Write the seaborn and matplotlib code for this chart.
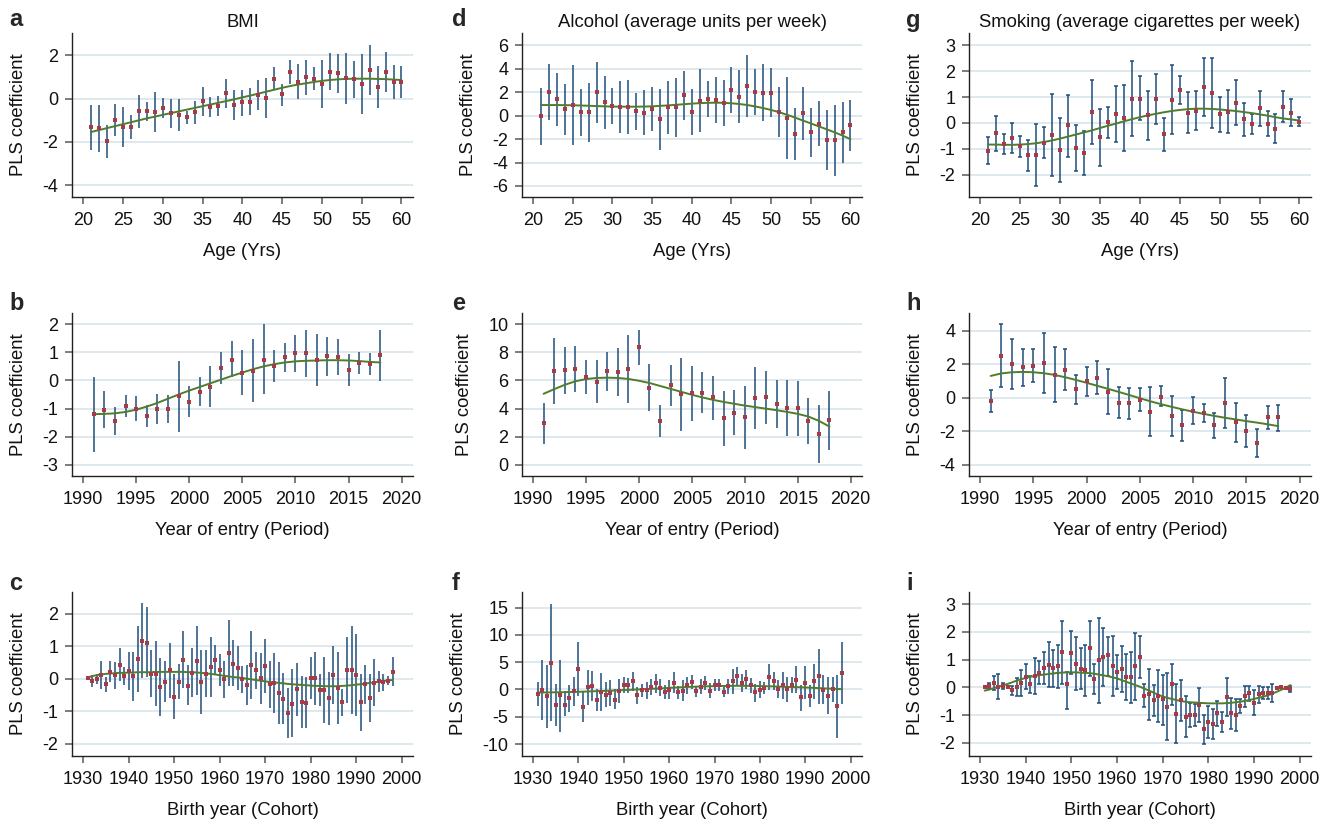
import numpy as np
import matplotlib
matplotlib.use("Agg")
import matplotlib.pyplot as plt
import seaborn as sns

sns.set_theme(style="white")
plt.rcParams['font.family'] = ['Liberation Sans', 'DejaVu Sans']

# ---------------- x categories ----------------
ages = list(range(21, 61))
periods = list(range(1991, 2019))
cohorts = list(range(1931, 1999))

# ---------------- a: BMI by age ----------------
bmi_age_est = [-1.31, -1.37, -1.97, -0.97, -1.31, -1.31, -0.57, -0.57, -0.63, -0.45,
               -0.68, -0.75, -0.83, -0.63, -0.11, -0.37, -0.32, 0.25, -0.29, -0.17,
               -0.15, 0.17, 0.05, 0.91, 0.20, 1.23, 0.77, 1.00, 0.92, 0.68,
               1.25, 1.17, 0.94, 0.91, 0.68, 1.32, 0.54, 1.22, 0.77, 0.77]
bmi_age_hi = [-0.29, -0.29, -1.22, -0.25, -0.40, -0.75, 0.18, -0.14, 0.31, 0.02,
              0.00, 0.00, -0.57, -0.11, 0.55, 0.06, 0.11, 0.92, 0.38, 0.42,
              0.49, 0.86, 0.95, 1.48, 0.69, 1.78, 1.60, 1.80, 1.45, 1.78,
              2.12, 2.06, 2.12, 1.75, 2.08, 2.49, 1.51, 2.15, 1.55, 1.51]
bmi_age_lo = [-2.38, -2.48, -2.74, -1.71, -2.22, -1.86, -1.37, -1.02, -1.55, -0.91,
              -1.37, -1.48, -1.17, -1.17, -0.78, -0.85, -0.78, -0.43, -0.98, -0.78,
              -0.74, -0.52, -0.88, 0.42, -0.32, 0.66, -0.03, 0.18, 0.42, -0.43,
              0.40, 0.28, -0.25, 0.05, -0.72, 0.15, -0.45, 0.29, -0.03, 0.03]
bmi_age_fit = [-1.54, -1.45, -1.36, -1.27, -1.18, -1.09, -1.00, -0.91, -0.83, -0.75,
               -0.67, -0.59, -0.51, -0.43, -0.35, -0.27, -0.19, -0.11, -0.03, 0.06,
               0.14, 0.23, 0.32, 0.41, 0.50, 0.58, 0.65, 0.71, 0.77, 0.82,
               0.86, 0.89, 0.91, 0.92, 0.92, 0.92, 0.91, 0.90, 0.88, 0.86]

# ---------------- d: Alcohol by age ----------------
alc_age_est = [-0.06, 2.03, 1.43, 0.54, 0.94, 0.29, 0.29, 2.00, 1.14, 0.83,
               0.71, 0.74, 0.37, 0.26, 0.54, -0.31, 0.71, 0.71, 1.74, 0.31,
               1.29, 1.40, 1.37, 1.06, 2.23, 1.63, 2.54, 2.00, 1.97, 1.97,
               0.29, -0.17, -1.60, 0.20, -1.43, -0.69, -2.06, -2.11, -1.43, -0.83]
alc_age_hi = [2.37, 4.43, 3.66, 2.71, 4.31, 2.29, 2.83, 4.57, 3.37, 2.34,
              2.94, 3.06, 1.91, 2.17, 2.43, 2.26, 3.00, 3.23, 3.83, 2.26,
              3.97, 2.94, 3.29, 3.03, 4.17, 3.89, 5.17, 3.97, 4.40, 4.09,
              2.43, 3.31, 0.63, 2.49, 0.69, 1.23, 0.49, 0.89, 1.14, 1.34]
alc_age_lo = [-2.49, -0.34, -0.86, -1.66, -2.46, -1.74, -2.23, -0.63, -1.11, -0.69,
              -1.51, -1.57, -1.23, -1.63, -1.34, -2.89, -1.57, -1.83, -0.34, -1.63,
              -1.40, -0.11, -0.60, -0.89, 0.26, -0.60, -0.11, 0.06, -0.43, -0.11,
              -1.86, -3.69, -3.77, -2.11, -3.51, -2.57, -4.63, -5.14, -4.06, -3.03]
alc_age_fit = [0.91, 0.91, 0.91, 0.90, 0.89, 0.87, 0.85, 0.82, 0.80, 0.78,
               0.77, 0.77, 0.77, 0.78, 0.80, 0.84, 0.88, 0.93, 0.98, 1.03,
               1.07, 1.10, 1.11, 1.10, 1.06, 1.00, 0.91, 0.79, 0.65, 0.49,
               0.30, 0.08, -0.16, -0.41, -0.66, -0.91, -1.16, -1.42, -1.70, -2.00]

# ---------------- g: Smoking by age ----------------
smk_age_est = [-1.07, -0.39, -0.83, -0.58, -0.91, -1.25, -1.25, -0.79, -0.48, -1.06,
               -0.10, -0.96, -1.15, 0.44, -0.56, 0.04, 0.35, 0.18, 0.93, 0.94,
               0.30, 0.92, -0.44, 0.89, 1.28, 0.38, 0.47, 1.38, 1.15, 0.34,
               0.41, 0.76, 0.14, -0.05, 0.56, -0.03, -0.22, 0.61, 0.40, 0.04]
smk_age_hi = [-0.56, 0.28, -0.45, -0.01, -0.52, -0.65, -0.06, -0.17, 1.10, 0.18,
              1.09, -0.08, -0.31, 1.67, 0.52, 0.61, 1.44, 1.45, 2.38, 1.80,
              1.25, 1.88, 0.19, 2.23, 1.82, 1.19, 1.23, 2.50, 2.50, 1.02,
              1.28, 1.66, 0.76, 0.35, 1.24, 0.47, 0.34, 1.22, 0.91, 0.21]
smk_age_lo = [-1.59, -1.07, -1.19, -1.16, -1.31, -1.85, -2.43, -1.37, -2.06, -2.28,
              -1.31, -1.86, -2.02, -0.80, -1.66, -0.57, -0.74, -1.10, -0.52, 0.10,
              -0.65, -0.05, -1.07, -0.45, 0.75, -0.41, -0.28, 0.28, -0.18, -0.36,
              -0.41, -0.10, -0.49, -0.43, -0.12, -0.52, -0.78, 0.04, -0.12, -0.14]
smk_age_fit = [-0.84, -0.84, -0.85, -0.85, -0.84, -0.82, -0.79, -0.74, -0.68, -0.61,
               -0.53, -0.45, -0.37, -0.29, -0.20, -0.11, -0.03, 0.06, 0.14, 0.22,
               0.29, 0.35, 0.41, 0.46, 0.50, 0.53, 0.55, 0.55, 0.54, 0.52,
               0.49, 0.46, 0.42, 0.38, 0.33, 0.28, 0.22, 0.17, 0.13, 0.09]

# ---------------- b: BMI by period ----------------
bmi_per_est = [-1.20, -1.04, -1.44, -0.90, -1.00, -1.25, -1.01, -1.01, -0.57, -0.75,
               -0.40, -0.23, 0.45, 0.74, 0.27, 0.35, 0.74, 0.50, 0.82, 0.98,
               0.96, 0.74, 0.86, 0.83, 0.38, 0.62, 0.60, 0.89]
bmi_per_hi = [0.14, -0.36, -0.95, -0.51, -0.55, -0.86, -0.48, -0.51, 0.70, -0.19,
              0.11, 0.52, 1.00, 1.39, 1.10, 1.48, 2.00, 1.07, 1.35, 1.63,
              1.81, 1.67, 1.56, 1.49, 0.95, 1.00, 0.99, 1.81]
bmi_per_lo = [-2.54, -1.70, -1.94, -1.29, -1.46, -1.67, -1.56, -1.50, -1.82, -1.29,
              -0.90, -0.95, -0.11, 0.12, -0.51, -0.75, -0.50, -0.07, 0.31, 0.30,
              0.11, -0.19, 0.17, 0.19, -0.19, 0.24, 0.19, -0.02]
bmi_per_fit = [-1.20, -1.19, -1.17, -1.12, -1.04, -0.93, -0.80, -0.65, -0.50, -0.36,
               -0.23, -0.10, 0.03, 0.16, 0.28, 0.40, 0.50, 0.58, 0.64, 0.68,
               0.70, 0.71, 0.72, 0.72, 0.71, 0.69, 0.66, 0.64]

# ---------------- e: Alcohol by period ----------------
alc_per_est = [2.95, 6.67, 6.74, 6.83, 6.24, 5.90, 6.64, 6.62, 6.83, 8.38,
               5.48, 3.14, 5.69, 5.00, 5.10, 5.14, 4.79, 3.31, 3.71, 3.40,
               4.76, 4.81, 4.33, 4.02, 4.02, 3.12, 2.19, 3.17]
alc_per_hi = [4.40, 9.00, 8.40, 8.45, 7.43, 7.45, 8.02, 8.33, 9.24, 9.62,
              7.14, 4.24, 7.12, 7.57, 7.02, 6.57, 6.31, 5.24, 5.31, 5.62,
              6.93, 6.71, 6.05, 6.00, 5.93, 4.76, 4.24, 5.24]
alc_per_lo = [1.50, 4.33, 5.07, 5.19, 5.02, 4.38, 5.24, 4.90, 4.38, 7.07,
              3.81, 2.00, 4.21, 2.40, 3.12, 3.67, 3.21, 1.36, 2.14, 1.14,
              2.52, 2.90, 2.64, 2.05, 2.05, 1.45, 0.10, 1.02]
alc_per_fit = [5.05, 5.38, 5.69, 5.94, 6.10, 6.18, 6.20, 6.18, 6.11, 5.98,
               5.82, 5.61, 5.40, 5.19, 4.98, 4.79, 4.62, 4.47, 4.34, 4.21,
               4.10, 3.99, 3.88, 3.76, 3.62, 3.43, 3.12, 2.71]

# ---------------- h: Smoking by period ----------------
smk_per_est = [-0.20, 2.50, 2.00, 1.82, 1.92, 2.08, 1.38, 1.68, 0.50, 0.98,
               1.20, 0.36, -0.30, -0.34, -0.12, -0.84, 0.06, -1.10, -1.62, -0.78,
               -0.90, -1.66, -0.30, -1.48, -2.00, -2.69, -1.18, -1.18]
smk_per_hi = [0.46, 4.39, 3.51, 2.91, 2.89, 3.87, 3.03, 2.89, 1.38, 1.86,
              2.22, 1.72, 0.62, 0.60, 0.60, 0.62, 0.70, 0.08, -0.72, 0.04,
              -0.36, -0.94, 1.18, -0.32, -1.04, -1.86, -0.52, -0.44]
smk_per_lo = [-0.88, 0.62, 0.50, 0.72, 0.94, 0.28, -0.26, 0.44, -0.38, 0.10,
              0.20, -0.98, -1.20, -1.28, -0.80, -2.28, -0.50, -2.30, -2.56, -1.58,
              -1.46, -2.42, -1.80, -2.62, -2.95, -3.55, -1.86, -1.98]
smk_per_fit = [1.30, 1.45, 1.52, 1.54, 1.52, 1.46, 1.36, 1.22, 1.06, 0.89,
               0.71, 0.53, 0.35, 0.16, -0.03, -0.22, -0.39, -0.55, -0.70, -0.84,
               -0.97, -1.09, -1.20, -1.30, -1.40, -1.49, -1.59, -1.70]

# ---------------- c: BMI by cohort ----------------
bmi_coh_est = [0.01, -0.06, -0.02, 0.11, -0.16, 0.21, 0.10, 0.43, 0.08, 0.24,
               0.07, 0.60, 1.16, 1.11, 0.15, 0.16, -0.26, -0.09, 0.26, -0.56,
               -0.09, 0.58, -0.21, 0.18, 0.55, -0.11, 0.16, 0.36, 0.56, 0.27,
               -0.02, 0.79, 0.46, 0.33, -0.02, -0.19, 0.42, 0.26, 0.02, 0.40,
               -0.17, -0.14, -0.44, -0.61, -1.05, -0.76, -0.33, -0.70, -0.74, 0.03,
               0.02, -0.36, -0.35, -0.59, 0.11, -0.28, -0.72, 0.26, 0.27, 0.11,
               -0.72, -0.17, -0.60, -0.12, -0.08, -0.10, -0.06, 0.22]
bmi_coh_hi = [0.07, 0.11, 0.16, 0.55, 0.06, 0.54, 0.50, 0.93, 0.36, 0.83,
              0.81, 1.61, 2.31, 2.19, 0.88, 1.16, 0.63, 0.54, 1.11, 0.13,
              0.45, 1.46, 0.43, 0.95, 1.62, 0.88, 0.88, 1.29, 1.02, 0.76,
              0.54, 1.79, 1.18, 0.99, 0.40, 0.43, 1.46, 0.81, 0.80, 1.23,
              0.54, 0.78, 0.50, 0.18, -0.28, 0.29, 0.48, 0.08, 0.04, 0.68,
              0.82, 0.13, 0.66, 0.21, 1.00, 0.83, -0.30, 1.27, 1.61, 1.36,
              0.15, 0.42, 0.13, 0.60, 0.23, 0.16, 0.08, 0.66]
bmi_coh_lo = [-0.05, -0.24, -0.16, -0.32, -0.40, -0.11, -0.31, -0.08, -0.18, -0.35,
              -0.67, -0.41, 0.01, 0.04, -0.55, -0.83, -1.14, -0.71, -0.60, -1.24,
              -0.61, -0.28, -0.82, -0.57, -0.51, -1.09, -0.55, -0.55, 0.11, -0.21,
              -0.58, -0.21, -0.23, -0.34, -0.43, -0.81, -0.62, -0.30, -0.76, -0.45,
              -0.90, -1.05, -1.38, -1.39, -1.82, -1.80, -1.13, -1.50, -1.52, -0.63,
              -0.80, -0.85, -1.35, -1.41, -0.76, -1.38, -1.14, -0.74, -1.09, -1.13,
              -1.60, -0.78, -1.34, -0.83, -0.41, -0.38, -0.18, -0.21]
bmi_coh_fit = [0.04, 0.08, 0.11, 0.13, 0.15, 0.16, 0.17, 0.18, 0.18, 0.19,
               0.19, 0.20, 0.20, 0.20, 0.20, 0.21, 0.21, 0.21, 0.21, 0.21,
               0.21, 0.21, 0.20, 0.20, 0.19, 0.18, 0.16, 0.15, 0.13, 0.11,
               0.09, 0.07, 0.05, 0.04, 0.02, 0.00, -0.02, -0.04, -0.06, -0.08,
               -0.10, -0.11, -0.13, -0.14, -0.16, -0.17, -0.18, -0.19, -0.20, -0.21,
               -0.22, -0.22, -0.23, -0.23, -0.23, -0.23, -0.22, -0.21, -0.20, -0.18,
               -0.17, -0.15, -0.13, -0.11, -0.09, -0.07, -0.05, -0.04]

# ---------------- f: Alcohol by cohort ----------------
alc_coh_est = [-0.79, -0.06, -1.28, 4.94, -2.80, -1.10, -2.80, -1.65, -0.30, 3.72,
               -3.23, 0.43, 0.67, -1.89, -0.55, -0.98, -0.61, -1.95, -0.30, 0.79,
               0.79, 1.52, -1.10, -0.18, -0.18, 0.43, 1.10, 0.30, -0.49, -0.18,
               1.22, -0.55, -0.24, 0.73, 1.34, -0.37, 0.49, 1.16, -0.24, 0.79,
               0.79, -0.43, 0.55, 1.52, 2.38, 1.22, 1.83, 0.73, -0.55, -0.06,
               0.24, 2.32, 1.52, 0.00, 0.79, 0.00, 0.85, 1.77, -1.46, 1.22,
               -1.28, 1.52, 2.44, -0.06, -1.16, 0.00, -2.99, 2.93]
alc_coh_hi = [1.28, 5.43, 4.51, 15.7, 0.98, 5.37, -0.24, 0.73, 2.20, 8.66,
              -0.55, 3.66, 3.35, 0.12, 2.99, 1.34, 1.77, 0.12, 1.89, 2.20,
              2.13, 3.29, 0.43, 1.04, 1.34, 1.83, 2.80, 1.83, 0.73, 1.77,
              3.17, 0.67, 1.71, 2.20, 2.62, 0.61, 1.89, 2.44, 1.10, 1.89,
              1.83, 0.49, 1.89, 3.84, 4.09, 2.80, 3.54, 2.07, 1.04, 1.52,
              1.40, 4.76, 3.17, 1.65, 3.23, 2.20, 2.26, 4.27, 0.85, 4.33,
              0.73, 4.70, 7.50, 2.56, 2.26, 2.26, 2.74, 8.66]
alc_coh_lo = [-2.99, -5.55, -7.01, -5.85, -6.65, -7.74, -4.88, -4.09, -2.99, -1.28,
              -5.91, -2.80, -2.07, -3.96, -3.96, -3.23, -3.05, -3.66, -2.50, -0.61,
              -0.61, -0.24, -2.62, -1.46, -1.71, -1.10, -0.61, -1.22, -1.71, -1.71,
              -0.73, -1.83, -2.13, -0.79, 0.00, -1.34, -0.91, -0.18, -1.65, -0.30,
              -0.30, -1.34, -0.85, -0.85, 0.61, -0.43, 0.06, -0.61, -2.26, -1.65,
              -0.91, -0.12, -0.12, -1.59, -1.71, -2.26, -0.61, -0.67, -3.90, -1.83,
              -3.29, -1.71, -2.68, -2.62, -4.51, -2.26, -8.84, -2.74]
alc_coh_fit = [-0.55, -0.55, -0.54, -0.53, -0.52, -0.51, -0.49, -0.47, -0.45, -0.43,
               -0.40, -0.37, -0.34, -0.31, -0.28, -0.25, -0.22, -0.19, -0.15, -0.12,
               -0.08, -0.04, 0.00, 0.04, 0.08, 0.12, 0.16, 0.20, 0.25, 0.30,
               0.34, 0.38, 0.42, 0.46, 0.49, 0.52, 0.55, 0.57, 0.59, 0.61,
               0.63, 0.64, 0.65, 0.66, 0.67, 0.67, 0.67, 0.66, 0.64, 0.62,
               0.60, 0.58, 0.56, 0.53, 0.50, 0.47, 0.45, 0.42, 0.40, 0.37,
               0.33, 0.29, 0.25, 0.21, 0.17, 0.13, 0.09, 0.06]

# ---------------- i: Smoking by cohort ----------------
smk_coh_est = [0.01, 0.05, 0.17, 0.00, 0.05, 0.00, -0.08, 0.00, 0.17, 0.38,
               0.12, 0.41, 0.53, 0.70, 0.81, 0.70, 0.76, 1.26, 0.12, 1.25,
               0.85, 0.66, 0.61, 1.42, 0.31, 0.97, 1.09, 1.17, 0.78, 0.54,
               0.67, 0.38, 0.37, 0.76, 1.09, -0.30, -0.25, -0.47, -0.31, -0.44,
               -0.70, 0.13, -0.96, -0.47, -1.07, -1.00, -1.00, -0.64, -1.51, -1.26,
               -1.32, -0.94, -1.26, -0.36, -0.94, -1.00, -0.66, -0.32, -0.22, -0.55,
               -0.25, -0.19, -0.20, -0.20, -0.01, 0.00, -0.01, -0.06]
smk_coh_hi = [0.05, 0.14, 0.42, 0.47, 0.14, 0.05, 0.06, 0.32, 0.63, 0.83,
              0.42, 1.05, 0.94, 1.29, 1.62, 1.36, 1.54, 2.40, 0.54, 2.03,
              1.80, 1.41, 1.54, 2.40, 0.85, 2.50, 2.13, 1.80, 1.85, 1.15,
              1.50, 1.21, 1.27, 1.96, 1.86, 0.11, 0.67, 0.10, 0.64, 0.46,
              0.50, 0.85, 0.11, 0.28, -0.32, -0.56, -0.60, -0.02, -0.99, -0.69,
              -0.79, -0.48, -0.90, 0.32, -0.38, -0.42, -0.41, 0.05, 0.04, -0.10,
              0.05, 0.02, 0.02, 0.12, 0.02, 0.04, 0.02, 0.06]
smk_coh_lo = [-0.04, -0.06, -0.10, -0.42, -0.06, -0.04, -0.26, -0.31, -0.31, -0.06,
              -0.19, -0.24, 0.12, 0.11, 0.01, 0.02, -0.02, 0.12, -0.78, 0.49,
              -0.10, -0.06, -0.31, 0.42, -0.24, -0.55, 0.06, 0.41, -0.30, -0.07,
              -0.16, -0.47, -0.55, -0.46, 0.32, -0.72, -1.18, -1.03, -1.24, -1.36,
              -1.90, -0.63, -2.02, -1.21, -1.80, -1.43, -1.39, -1.24, -2.04, -1.84,
              -1.86, -1.39, -1.63, -1.03, -1.49, -1.59, -0.94, -0.70, -0.48, -1.01,
              -0.55, -0.42, -0.43, -0.54, -0.05, -0.04, -0.04, -0.17]
smk_coh_fit = [-0.12, -0.08, -0.03, 0.02, 0.07, 0.12, 0.18, 0.24, 0.29, 0.34,
               0.38, 0.41, 0.44, 0.46, 0.48, 0.50, 0.52, 0.53, 0.54, 0.54,
               0.54, 0.53, 0.52, 0.51, 0.49, 0.46, 0.43, 0.40, 0.36, 0.32,
               0.26, 0.20, 0.14, 0.08, 0.02, -0.05, -0.12, -0.19, -0.27, -0.33,
               -0.38, -0.42, -0.46, -0.50, -0.52, -0.54, -0.55, -0.56, -0.57, -0.58,
               -0.58, -0.58, -0.58, -0.57, -0.56, -0.54, -0.52, -0.49, -0.46, -0.42,
               -0.38, -0.34, -0.29, -0.23, -0.16, -0.09, -0.01, 0.08]

# ---------------- labels ----------------
titles = ["BMI", "Alcohol (average units per week)", "Smoking (average cigarettes per week)"]
xlabels = ["Age (Yrs)", "Year of entry (Period)", "Birth year (Cohort)"]
letters = [["a", "b", "c"], ["d", "e", "f"], ["g", "h", "i"]]

panels = [
    [(ages, bmi_age_est, bmi_age_lo, bmi_age_hi, bmi_age_fit),
     (periods, bmi_per_est, bmi_per_lo, bmi_per_hi, bmi_per_fit),
     (cohorts, bmi_coh_est, bmi_coh_lo, bmi_coh_hi, bmi_coh_fit)],
    [(ages, alc_age_est, alc_age_lo, alc_age_hi, alc_age_fit),
     (periods, alc_per_est, alc_per_lo, alc_per_hi, alc_per_fit),
     (cohorts, alc_coh_est, alc_coh_lo, alc_coh_hi, alc_coh_fit)],
    [(ages, smk_age_est, smk_age_lo, smk_age_hi, smk_age_fit),
     (periods, smk_per_est, smk_per_lo, smk_per_hi, smk_per_fit),
     (cohorts, smk_coh_est, smk_coh_lo, smk_coh_hi, smk_coh_fit)],
]

yticks = [
    [[-4, -2, 0, 2], [-3, -2, -1, 0, 1, 2], [-2, -1, 0, 1, 2]],
    [[-6, -4, -2, 0, 2, 4, 6], [0, 2, 4, 6, 8, 10], [-10, -5, 0, 5, 10, 15]],
    [[-2, -1, 0, 1, 2, 3], [-4, -2, 0, 2, 4], [-2, -1, 0, 1, 2, 3]],
]
ylims = [
    [(-4.54, 3.03), (-3.40, 2.40), (-2.37, 2.66)],
    [(-6.94, 7.06), (-0.81, 10.81), (-12.2, 17.87)],
    [(-2.87, 3.48), (-4.68, 5.06), (-2.48, 3.44)],
]
xlims = [(18.6, 61.45), (1988.96, 2021.07), (1927.55, 2002.5)]
xticks = [list(range(20, 61, 5)), list(range(1990, 2021, 5)), list(range(1930, 2001, 10))]

# ---------------- layout (pixels) ----------------
W, H = 1331, 822
col_lr = [(72, 413), (522, 862), (969, 1311)]
row_tb = [(33, 197), (313, 476), (592, 756)]
letter_x = [9, 452, 906]
letter_y = [20, 303, 583]

BAR = "#1f4e79"
DOT = "#a83a46"
FIT = "#4f7d2b"
GRID = "#dce6ec"
AXC = "#222222"
TICKC = "#666666"

fig = plt.figure(figsize=(W / 100, H / 100), dpi=100)
fig.patch.set_facecolor("white")

for c in range(3):
    for r in range(3):
        l, rr = col_lr[c]
        t, b = row_tb[r]
        ax = fig.add_axes([l / W, 1 - b / H, (rr - l) / W, (b - t) / H])
        x, est, lo, hi, fit = panels[c][r]
        x = np.array(x); est = np.array(est); lo = np.array(lo); hi = np.array(hi)
        ax.set_facecolor("white")
        for yv in yticks[c][r]:
            ax.axhline(yv, color=GRID, lw=1.3, zorder=0)
        capsize = 1.6 if c == 2 else 0
        ax.errorbar(x, est, yerr=[est - lo, hi - est], fmt="none", ecolor=BAR,
                    elinewidth=1.1, capsize=capsize, capthick=1.1, zorder=2)
        sns.lineplot(x=x, y=fit, ax=ax, color=FIT, lw=1.4, zorder=3)
        sns.scatterplot(x=x, y=est, ax=ax, color=DOT, marker="s", s=9,
                        linewidth=0, zorder=4)
        ax.set_xlim(*xlims[r])
        ax.set_ylim(*ylims[c][r])
        ax.set_xticks(xticks[r])
        ax.set_yticks(yticks[c][r])
        ax.set_xticklabels([str(v) for v in xticks[r]])
        ax.set_yticklabels([str(v) for v in yticks[c][r]])
        ax.tick_params(axis="both", direction="out", length=4.8, width=1.2, color=TICKC,
                       labelsize=13, labelcolor="#111111",
                       bottom=True, left=True)
        ax.tick_params(axis="y", pad=5)
        ax.tick_params(axis="x", pad=6)
        for s in ["top", "right"]:
            ax.spines[s].set_visible(False)
        for s in ["left", "bottom"]:
            ax.spines[s].set_color(AXC)
            ax.spines[s].set_linewidth(1.0)
        ax.grid(False)
        ax.set_xlabel(xlabels[r], fontsize=13.3, color="#111111", labelpad=10)
        ax.set_ylabel("PLS coefficient", fontsize=13.3, color="#111111", labelpad=11)
        if r == 0:
            ax.set_title(titles[c], fontsize=13.3, color="#111111", pad=4)
        fig.text(letter_x[c] / W, 1 - letter_y[r] / H, letters[c][r],
                 fontsize=17, fontweight="bold", ha="left", va="center")

fig.savefig("out.png", dpi=100, facecolor="white")
